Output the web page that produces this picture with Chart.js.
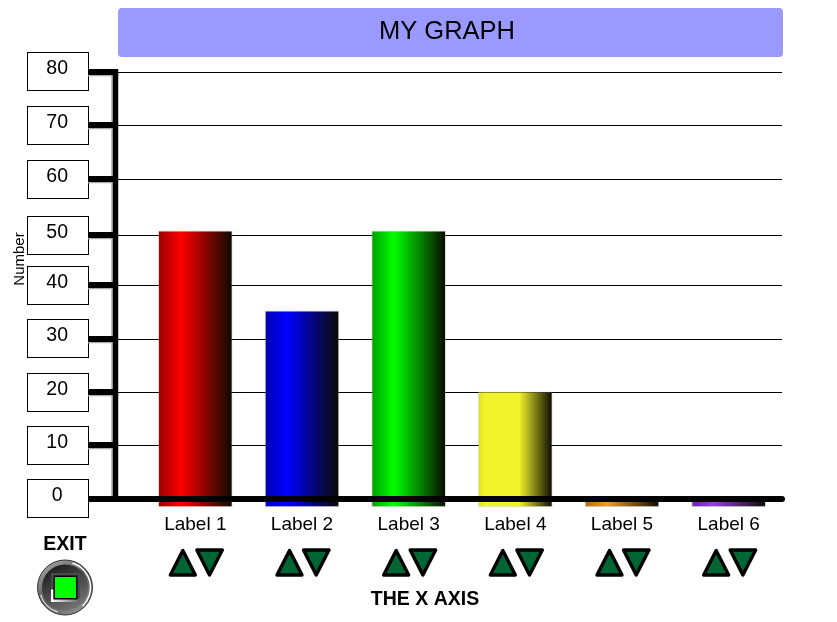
<!DOCTYPE html>
<html>
<head>
<meta charset="utf-8">
<title>MY GRAPH</title>
<script src="https://cdn.jsdelivr.net/npm/chart.js@4"></script>
<style>
    html, body { margin: 0; padding: 0; background: #fff; }
    canvas { display: block; }
</style>
</head>
<body>
<canvas id="chart" width="837" height="622"></canvas>
<script>
const categories = ["Label 1", "Label 2", "Label 3", "Label 4", "Label 5", "Label 6"];
const barValues = [50.2, 35.2, 50.2, 20, 0, 0];
const barFloor = -1.6;
const yTickLabels = ["0", "10", "20", "30", "40", "50", "60", "70", "80"];
const yGridValues = [0, 10, 19.9, 29.9, 40, 49.4, 59.9, 70, 80];
const brightColors = ["#ff0000", "#0000ff", "#00ff00", "#f3f32c", "#f59a23", "#9a3be6"];
const dimColors = ["#990000", "#0000b0", "#00a000", "#dede20", "#b06a10", "#7020b0"];
const peakStart = [0.3, 0.3, 0.3, 0.08, 0.3, 0.3];
const peakEnd = [0.3, 0.3, 0.3, 0.55, 0.3, 0.3];

const chartTitle = "MY GRAPH";
const xTitle = "THE X AXIS";
const yTitle = "Number";
const exitText = "EXIT";
const FONT = '"Liberation Sans", Arial, sans-serif';
const BAR_WIDTH = 74;

function barGradient(ctx) {
    const i = ctx.dataIndex;
    if (i === undefined) return "#000";
    const x = ctx.chart.scales.x.getPixelForValue(i);
    // scales have no pixels yet on the very first pass
    if (!Number.isFinite(x)) return brightColors[i];
    const g = ctx.chart.ctx.createLinearGradient(x - BAR_WIDTH / 2, 0, x + BAR_WIDTH / 2, 0);
    g.addColorStop(0, dimColors[i]);
    g.addColorStop(peakStart[i], brightColors[i]);
    g.addColorStop(peakEnd[i], brightColors[i]);
    g.addColorStop(1, "#0a0a00");
    return g;
}

function line(c, x1, y1, x2, y2, color, width, cap) {
    c.strokeStyle = color;
    c.lineWidth = width;
    c.lineCap = cap || "butt";
    c.beginPath();
    c.moveTo(x1, y1);
    c.lineTo(x2, y2);
    c.stroke();
}

function triangle(c, x1, y1, x2, y2, x3, y3) {
    c.beginPath();
    c.moveTo(x1, y1);
    c.lineTo(x2, y2);
    c.lineTo(x3, y3);
    c.closePath();
    c.fill();
    c.stroke();
}

function drawExitButton(c, cx, cy) {
    let g = c.createLinearGradient(cx - 20, cy - 27, cx + 20, cy + 27);
    g.addColorStop(0, "#a8a8a8");
    g.addColorStop(0.5, "#555555");
    g.addColorStop(1, "#9a9a9a");
    c.fillStyle = g;
    c.strokeStyle = "#333";
    c.lineWidth = 1;
    c.beginPath();
    c.arc(cx, cy, 27.5, 0, Math.PI * 2);
    c.fill();
    c.stroke();

    // white highlight on the ring
    c.strokeStyle = "#fff";
    c.lineWidth = 1.5;
    c.beginPath();
    c.arc(cx, cy, 25.5, -Math.PI * 0.4, Math.PI * 0.25);
    c.stroke();
    c.strokeStyle = "#ccc";
    c.beginPath();
    c.arc(cx, cy, 25.5, Math.PI * 0.6, Math.PI * 0.9);
    c.stroke();

    g = c.createLinearGradient(cx - 12, cy - 22, cx + 12, cy + 22);
    g.addColorStop(0, "#1c1c1c");
    g.addColorStop(1, "#777777");
    c.fillStyle = g;
    c.beginPath();
    c.arc(cx, cy, 23, 0, Math.PI * 2);
    c.fill();

    // square frame, white fading into grey along the bottom
    c.fillStyle = "#4a4a4a";
    c.fillRect(cx - 14, cy - 14.5, 29, 29);
    g = c.createLinearGradient(cx - 14, 0, cx + 15, 0);
    g.addColorStop(0, "#ffffff");
    g.addColorStop(1, "#666666");
    c.fillStyle = g;
    c.fillRect(cx - 14, cy + 11, 29, 3.5);
    c.fillStyle = "#fff";
    c.fillRect(cx - 14, cy + 2, 2.5, 12.5);
    c.fillStyle = "#000";
    c.fillRect(cx - 11.5, cy - 12, 24, 24);
    c.fillStyle = "#00ff00";
    c.fillRect(cx - 10, cy - 10.5, 21, 21);
}

// boxes behind the y tick labels and the title band
const backgroundPlugin = {
    id: "backgroundPlugin",
    beforeDraw(chart) {
        const c = chart.ctx;
        const y = chart.scales.y;
        c.save();
        c.fillStyle = "#9999ff";
        c.beginPath();
        c.roundRect(118, 8, 665, 49, 4);
        c.fill();
        c.fillStyle = "#000";
        c.font = "25.5px " + FONT;
        c.textAlign = "center";
        c.textBaseline = "middle";
        c.fillText(chartTitle, 447, 32);

        c.strokeStyle = "#000";
        c.lineWidth = 1;
        c.fillStyle = "#fff";
        yGridValues.forEach(v => {
            const top = Math.round(y.getPixelForValue(v) - 19.6) + 0.5;
            c.fillRect(27.5, top, 61, 38);
            c.strokeRect(27.5, top, 61, 38);
        });
        c.restore();
    }
};

// axis lines, arrows and the remaining texts go over the bars
const overlayPlugin = {
    id: "overlayPlugin",
    afterDatasetsDraw(chart) {
        const c = chart.ctx;
        const x = chart.scales.x;
        const y = chart.scales.y;
        const axisX = chart.chartArea.left - 26.5;
        const topY = y.getPixelForValue(80);
        const zeroY = y.getPixelForValue(0) + 0.5;
        c.save();

        line(c, axisX - 3.5, topY, axisX - 3.5, zeroY, "#aaa", 1.5);
        yGridValues.forEach(v => {
            const py = Math.round(y.getPixelForValue(v));
            if (v !== 0) line(c, 88, py + 3.5, axisX, py + 3.5, "#aaa", 1.5);
        });
        yGridValues.forEach(v => {
            const py = Math.round(y.getPixelForValue(v));
            if (v !== 0) line(c, 88, py, axisX, py, "#000", 6);
        });
        line(c, axisX, topY - 3, axisX, zeroY, "#000", 5.5);
        line(c, 88, zeroY, 782, zeroY, "#000", 6);
        line(c, 780, zeroY, 782, zeroY, "#000", 6, "round");

        c.fillStyle = "#006633";
        c.strokeStyle = "#000";
        c.lineWidth = 3.4;
        c.lineJoin = "round";
        categories.forEach((name, i) => {
            const cx = x.getPixelForValue(i);
            triangle(c, cx - 12.5, 550.5, cx - 25, 575, cx, 575);
            triangle(c, cx + 1.5, 550, cx + 27, 550, cx + 14.2, 575);
        });

        c.fillStyle = "#000";
        c.textAlign = "center";
        c.textBaseline = "middle";
        c.font = "bold 19.5px " + FONT;
        c.fillText(xTitle, 425, 600);
        c.fillText(exitText, 65, 545);

        c.save();
        c.translate(20, 259);
        c.rotate(-Math.PI / 2);
        c.font = "15px " + FONT;
        c.fillText(yTitle, 0, 0);
        c.restore();

        drawExitButton(c, 65, 587.5);
        c.restore();
    }
};

new Chart(document.getElementById("chart"), {
    type: "bar",
    data: {
        labels: categories,
        datasets: [{
            data: barValues.map(v => [barFloor, v]),
            backgroundColor: barGradient,
            borderColor: "rgba(150,150,150,0.3)",
            borderWidth: 1,
            borderSkipped: false,
            barThickness: BAR_WIDTH
        }]
    },
    options: {
        responsive: false,
        animation: false,
        layout: { padding: { top: 72, right: 55, bottom: 0, left: 0 } },
        plugins: { legend: { display: false }, tooltip: { enabled: false }, title: { display: false } },
        scales: {
            x: {
                grid: { display: false, drawTicks: false },
                border: { display: false },
                afterFit(scale) { scale.height = 107; },
                ticks: {
                    color: "#000",
                    padding: -2,
                    maxRotation: 0,
                    autoSkip: false,
                    font: { family: FONT, size: 19 }
                }
            },
            y: {
                min: -3.1,
                max: 80,
                afterBuildTicks(scale) { scale.ticks = yGridValues.map(value => ({ value })); },
                afterFit(scale) { scale.width = 142; },
                border: { display: false },
                grid: { color: "#000", lineWidth: 1, tickColor: "#000", tickLength: 25, drawTicks: true },
                ticks: {
                    color: "#000",
                    autoSkip: false,
                    crossAlign: "center",
                    padding: 49,
                    labelOffset: -3,
                    font: { family: FONT, size: 19.5 },
                    callback: (v, i) => yTickLabels[i]
                }
            }
        }
    },
    plugins: [backgroundPlugin, overlayPlugin]
});
</script>
</body>
</html>
